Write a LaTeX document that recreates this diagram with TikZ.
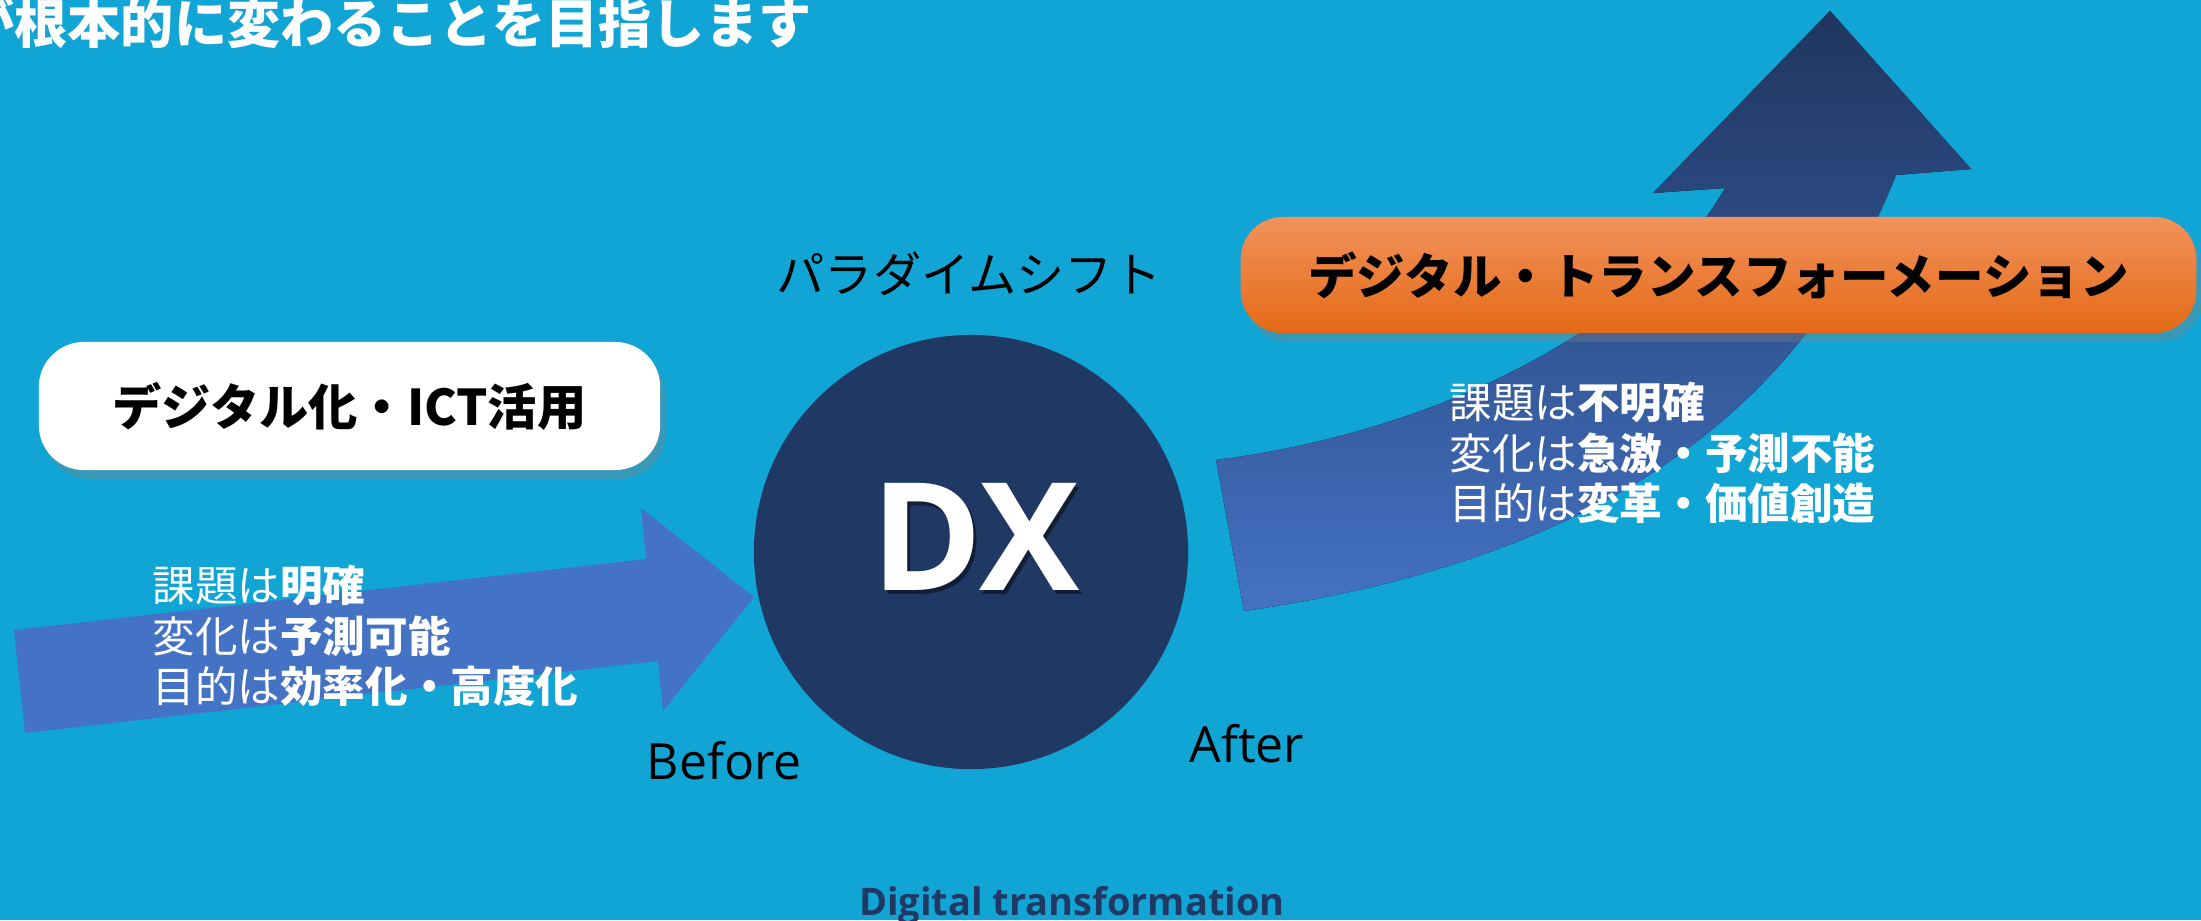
\documentclass[tikz,border=0pt]{standalone}
\usepackage{fontspec}
\setmainfont{Open Sans}
\newfontfamily\jp{Noto Sans CJK JP}
\newfontfamily\latin{Open Sans}[BoldFont={Open Sans Bold}]
\usetikzlibrary{shadows}
\definecolor{bgblue}{RGB}{17,165,214}
\definecolor{arrowblue}{RGB}{68,114,196}
\definecolor{navy}{RGB}{32,56,100}
\definecolor{darknavy}{RGB}{31,53,94}
\definecolor{orangetop}{RGB}{241,146,92}
\definecolor{orangemid}{RGB}{245,125,42}
\definecolor{orangebot}{RGB}{229,106,22}
\begin{document}
\begin{tikzpicture}[x=0.01cm,y=-0.01cm,
  titletext/.style={font=\jp\bfseries\fontsize{15.1pt}{17pt}\selectfont, text=white, inner sep=0pt},
  bodytext/.style={font=\jp\fontsize{12.1pt}{14.3pt}\selectfont, text=white, align=left, inner sep=0pt},
  whitebox/.style={fill=white, rounded corners=0.45cm, minimum width=6.21cm, minimum height=1.28cm,
    font=\jp\bfseries\fontsize{14pt}{16pt}\selectfont, text=black,
    drop shadow={opacity=0.35, shadow xshift=1.5pt, shadow yshift=-2.5pt}},
  orangebox/.style={top color=orangetop, middle color=orangemid, bottom color=orangebot,
    rounded corners=0.42cm, minimum width=9.55cm, minimum height=1.16cm,
    font=\jp\bfseries\fontsize{13.8pt}{15pt}\selectfont, text=black,
    drop shadow={opacity=0.35, shadow xshift=1.5pt, shadow yshift=-2.5pt}},
  latintext/.style={font=\latin\fontsize{14.2pt}{16pt}\selectfont, text=black, inner sep=0pt}
]
\fill[bgblue] (0,0) rectangle (2201,920);
\useasboundingbox (0,0) rectangle (2201,920);
\clip (0,0) rectangle (2201,920);

% title
\node[titletext, anchor=base east] (title) at (812,43) {が根本的に変わることを目指します};

% left straight arrow
\fill[arrowblue] (14,630) -- (646,559) -- (641,508) -- (754,597) -- (663,711) -- (658,661) -- (25,733) -- cycle;

% right curved arrow
\fill[top color=darknavy, bottom color=arrowblue]
  (1216,460) .. controls (1450,430) and (1650,320) .. (1725,188)
  -- (1653,193) -- (1830,11) -- (1971,169) -- (1896,175)
  .. controls (1790,440) and (1560,565) .. (1244,611) -- cycle;

% boxes
\node[whitebox] (digitalbox) at (349.5,406) {デジタル化・ICT活用};
\node[orangebox] (dxbox) at (1718.5,275) {デジタル・トランスフォーメーション};

% circle
\node[circle, fill=navy, minimum size=4.34cm, inner sep=0pt] (dxcircle) at (971,552) {};
\node[font=\latin\bfseries\fontsize{42.7pt}{44pt}\selectfont, text=black, opacity=0.45, inner sep=0pt] (dxshadow) at (979,541) {DX};
\node[font=\latin\bfseries\fontsize{42.7pt}{44pt}\selectfont, text=white, inner sep=0pt] (dx) at (976,537) {DX};

% labels
\node[font=\jp\fontsize{13.7pt}{15pt}\selectfont, text=black, inner sep=0pt] (paradigm) at (969,274) {パラダイムシフト};
\node[latintext, anchor=base west] (before) at (646,779) {Before};
\node[latintext, anchor=base west] (after) at (1189,762) {After};
\node[font=\latin\bfseries\fontsize{10.8pt}{12pt}\selectfont, text=navy, anchor=base, inner sep=0pt] (dt) at (1072,915) {Digital transformation};

% body texts
\node[bodytext, anchor=west] (lefttext) at (152,636) {課題は\textbf{明確}\\変化は\textbf{予測可能}\\目的は\textbf{効率化・高度化}};
\node[bodytext, anchor=west] (righttext) at (1449,453) {課題は\textbf{不明確}\\変化は\textbf{急激・予測不能}\\目的は\textbf{変革・価値創造}};
\end{tikzpicture}
\end{document}
